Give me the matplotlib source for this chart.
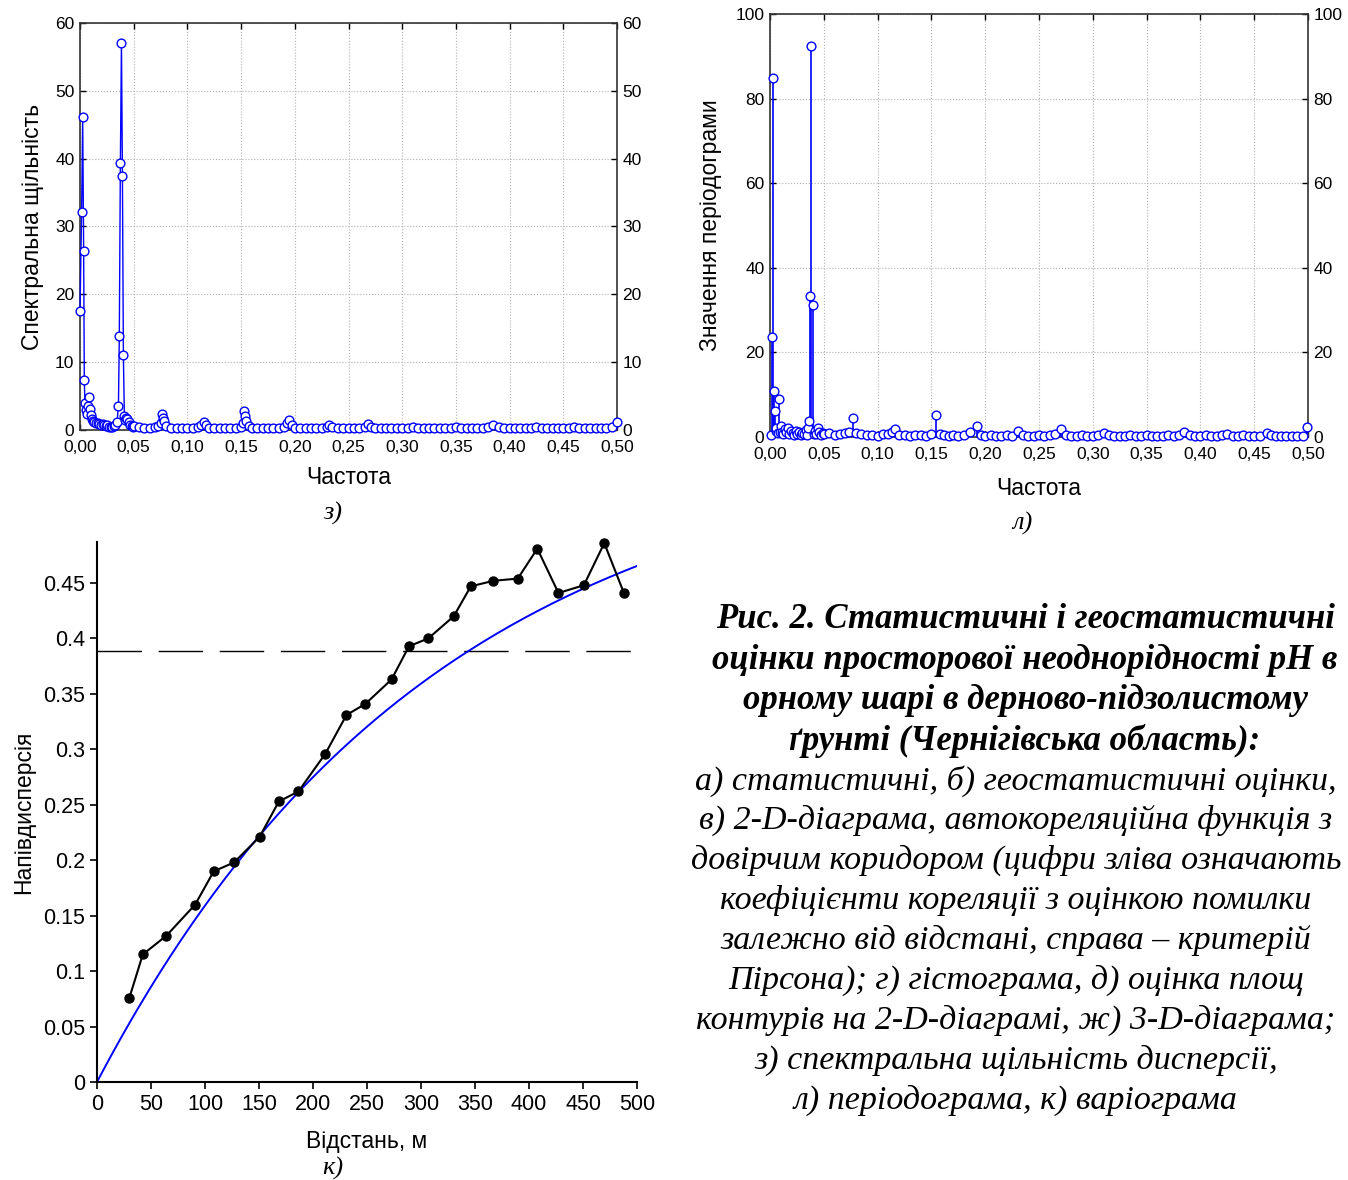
import numpy as np
import matplotlib
matplotlib.use("Agg")
import matplotlib.pyplot as plt

plt.rcParams['font.family'] = ['Liberation Sans', 'DejaVu Sans']

# ---- з) spectral density of variance
spec_freq = [0.000, 0.0015, 0.0025, 0.0034, 0.0040, 0.0046, 0.0054, 0.0062, 0.0072, 0.0081,
             0.0090, 0.0100, 0.0110, 0.0120, 0.0135, 0.0150, 0.0165, 0.0180, 0.0195, 0.0210,
             0.0225, 0.0240, 0.0255, 0.0270, 0.0285, 0.0300, 0.0315, 0.0330, 0.0345, 0.0358,
             0.0366, 0.0376, 0.0386, 0.0395, 0.0404, 0.0413, 0.0422, 0.0432, 0.0442, 0.0452,
             0.0465, 0.0480, 0.0495,
             0.050, 0.055, 0.060, 0.065, 0.070, 0.073, 0.075, 0.076, 0.077, 0.078,
             0.080, 0.085, 0.090, 0.095, 0.100, 0.105, 0.110, 0.113, 0.115, 0.117,
             0.120, 0.125, 0.130, 0.135, 0.140, 0.145, 0.150, 0.152, 0.153, 0.154,
             0.155, 0.157, 0.160, 0.165, 0.170, 0.175, 0.180, 0.185, 0.190, 0.193,
             0.195, 0.197, 0.200, 0.205, 0.210, 0.215, 0.220, 0.225, 0.230, 0.232,
             0.235, 0.240, 0.245, 0.250, 0.255, 0.260, 0.265, 0.268, 0.271, 0.275,
             0.280, 0.285, 0.290, 0.295, 0.300, 0.305, 0.310, 0.315, 0.320, 0.325,
             0.330, 0.335, 0.340, 0.345, 0.350, 0.355, 0.360, 0.365, 0.370, 0.375,
             0.380, 0.385, 0.390, 0.395, 0.400, 0.405, 0.410, 0.415, 0.420, 0.425,
             0.430, 0.435, 0.440, 0.445, 0.450, 0.455, 0.460, 0.465, 0.470, 0.475,
             0.480, 0.485, 0.490, 0.495, 0.500]
spec_vals = [17.5, 32.2, 46.1, 26.4, 7.3, 4.0, 2.9, 2.3, 3.5, 4.8,
             3.1, 2.2, 1.6, 1.4, 1.2, 1.0, 1.1, 0.9, 0.8, 0.9,
             0.7, 0.6, 0.7, 0.5, 0.4, 0.5, 0.6, 0.8, 1.2, 3.6,
             13.8, 39.4, 57.1, 37.4, 11.1, 2.0, 1.5, 1.7, 1.6, 1.2,
             0.8, 0.6, 0.5,
             0.6, 0.5, 0.3, 0.3, 0.4, 0.6, 1.1, 2.3, 1.8, 1.4,
             0.6, 0.3, 0.3, 0.25, 0.3, 0.3, 0.4, 0.8, 1.2, 0.7,
             0.3, 0.3, 0.25, 0.3, 0.3, 0.3, 0.5, 1.0, 2.8, 2.0,
             1.4, 0.6, 0.3, 0.3, 0.25, 0.3, 0.3, 0.35, 0.5, 1.0,
             1.5, 0.8, 0.3, 0.25, 0.3, 0.3, 0.25, 0.3, 0.5, 0.7,
             0.4, 0.3, 0.25, 0.3, 0.3, 0.3, 0.5, 0.9, 0.5, 0.3,
             0.25, 0.3, 0.3, 0.25, 0.3, 0.35, 0.45, 0.3, 0.25, 0.3,
             0.25, 0.3, 0.3, 0.35, 0.4, 0.3, 0.25, 0.3, 0.25, 0.3,
             0.4, 0.7, 0.4, 0.3, 0.25, 0.3, 0.3, 0.35, 0.3, 0.4,
             0.3, 0.25, 0.3, 0.3, 0.25, 0.3, 0.5, 0.35, 0.3, 0.25,
             0.3, 0.3, 0.25, 0.4, 1.2]

# ---- л) periodogram
per_freq = [0.0010, 0.0019, 0.0028, 0.0035, 0.0044, 0.0052, 0.0060, 0.0070, 0.0087, 0.0095,
            0.0105, 0.0115, 0.0125, 0.0135, 0.0150, 0.0165, 0.0180, 0.0195, 0.0210, 0.0225,
            0.0240, 0.0255, 0.0270, 0.0285, 0.0300, 0.0315, 0.0330, 0.0345, 0.0357, 0.0366,
            0.0375, 0.0384, 0.0397, 0.0405, 0.0415, 0.0430, 0.0446, 0.0460, 0.0475, 0.0490,
            0.050, 0.055, 0.060, 0.065, 0.070, 0.073, 0.0772, 0.080, 0.085, 0.090,
            0.095, 0.100, 0.105, 0.110, 0.1135, 0.116, 0.120, 0.125, 0.130, 0.135,
            0.140, 0.145, 0.150, 0.1544, 0.158, 0.162, 0.166, 0.170, 0.175, 0.180,
            0.186, 0.1925, 0.196, 0.200, 0.205, 0.210, 0.215, 0.220, 0.225, 0.2306,
            0.235, 0.240, 0.245, 0.250, 0.255, 0.260, 0.265, 0.270, 0.275, 0.280,
            0.285, 0.290, 0.295, 0.300, 0.305, 0.310, 0.315, 0.320, 0.325, 0.330,
            0.335, 0.340, 0.345, 0.350, 0.355, 0.360, 0.365, 0.370, 0.375, 0.380,
            0.385, 0.390, 0.395, 0.400, 0.405, 0.410, 0.415, 0.420, 0.425, 0.430,
            0.435, 0.440, 0.445, 0.450, 0.455, 0.462, 0.466, 0.470, 0.475, 0.480,
            0.485, 0.490, 0.495, 0.4995]
per_vals = [0.5, 23.7, 84.8, 10.9, 6.2, 1.5, 2.2, 1.0, 8.9, 1.2,
            2.6, 1.3, 0.8, 2.0, 1.1, 2.1, 0.6, 1.4, 0.9, 0.5,
            1.5, 0.7, 1.2, 0.4, 1.0, 0.6, 1.6, 0.5, 2.2, 3.9,
            33.4, 92.5, 31.1, 0.8, 1.5, 0.7, 2.1, 1.2, 0.5, 0.9,
            0.8, 1.0, 0.5, 0.7, 1.0, 1.2, 4.6, 1.0, 0.6, 0.4,
            0.5, 0.3, 0.6, 0.8, 1.2, 1.9, 0.4, 0.5, 0.3, 0.4,
            0.5, 0.3, 0.6, 5.1, 0.8, 0.4, 0.3, 0.5, 0.3, 0.4,
            1.2, 2.7, 0.5, 0.3, 0.4, 0.2, 0.3, 0.4, 0.3, 1.5,
            0.5, 0.3, 0.2, 0.4, 0.3, 0.5, 0.6, 1.8, 0.4, 0.2,
            0.3, 0.4, 0.3, 0.2, 0.5, 0.9, 0.4, 0.3, 0.2, 0.3,
            0.4, 0.2, 0.3, 0.5, 0.3, 0.2, 0.3, 0.4, 0.2, 0.5,
            1.2, 0.5, 0.3, 0.2, 0.4, 0.3, 0.2, 0.5, 0.6, 0.3,
            0.2, 0.4, 0.3, 0.2, 0.3, 1.0, 0.4, 0.2, 0.3, 0.2,
            0.3, 0.2, 0.3, 2.4]

# ---- к) variogram
lag_m = [30.0, 42.4, 64.3, 90.9, 108.1, 126.9, 150.5, 168.4, 186.5, 211.4,
         231.0, 248.5, 272.7, 288.9, 306.7, 330.3, 346.1, 367.0, 389.6, 407.7,
         427.3, 450.8, 469.7, 487.9]
semivar = [0.076, 0.115, 0.132, 0.160, 0.190, 0.198, 0.221, 0.253, 0.262, 0.296,
           0.331, 0.341, 0.363, 0.393, 0.400, 0.420, 0.447, 0.452, 0.454, 0.481,
           0.441, 0.448, 0.486, 0.441]
sample_variance = 0.389
# exponential model fitted to the experimental variogram
model_sill = 0.585
model_a = 315.0

caption_bold = ["Рис. 2. Статистичні і геостатистичні",
                "оцінки просторової неоднорідності pH в",
                "орному шарі в дерново-підзолистому",
                "ґрунті (Чернігівська область):"]
caption_plain = ["а) статистичні, б) геостатистичні оцінки,",
                 "в) 2-D-діаграма, автокореляційна функція з",
                 "довірчим коридором (цифри зліва означають",
                 "коефіцієнти кореляції з оцінкою помилки",
                 "залежно від відстані, справа – критерій",
                 "Пірсона); г) гістограма, д) оцінка площ",
                 "контурів на 2-D-діаграмі, ж) 3-D-діаграма;",
                 "з) спектральна щільність дисперсії,",
                 "л) періодограма, к) варіограма"]

fig = plt.figure(figsize=(13.48, 11.80), dpi=100)
W, H = 1348, 1180


def px_axes(x0, y0, x1, y1):
    return fig.add_axes([x0 / W, 1 - y1 / H, (x1 - x0) / W, (y1 - y0) / H])


def freq_axes(ax, ymax, ystep):
    ax.set_xlim(0, 0.5)
    ax.set_ylim(0, ymax)
    ax.set_xticks(np.arange(0, 0.501, 0.05))
    ax.set_xticklabels([f"{t:.2f}".replace(".", ",") for t in np.arange(0, 0.501, 0.05)])
    ax.set_yticks(np.arange(0, ymax + 0.1, ystep))
    ax.grid(True, color="#b0b0b0", linestyle=":", linewidth=0.8)
    ax.tick_params(direction="in", top=True, right=True, labelright=True,
                   labelsize=12.5, length=4, width=1)
    ax.tick_params(axis="x", pad=7)
    ax.tick_params(axis="y", pad=4)
    for s in ax.spines.values():
        s.set_linewidth(1.2)
        s.set_color("#333333")
    ax.set_axisbelow(True)


# з) spectral density
ax1 = px_axes(80, 23, 617, 430)
freq_axes(ax1, 60, 10)
ax1.plot(spec_freq, spec_vals, color="#0000ff", lw=1.0, marker="o", ms=6.3,
         mfc="white", mec="#0000ff", mew=1.0, clip_on=False, zorder=3)
ax1.set_xlabel("Частота", fontsize=16.5, labelpad=8)
ax1.set_ylabel("Спектральна щільність", fontsize=16.5, labelpad=8)
fig.text(333 / W, 1 - 513 / H, "з)", fontsize=19, style="italic",
         family="Liberation Serif", ha="center", va="center")

# л) periodogram
ax2 = px_axes(770, 14, 1308, 437)
freq_axes(ax2, 100, 20)
ax2.vlines(per_freq, 0, per_vals, color="#0000ff", lw=1.2, zorder=3)
ax2.plot(per_freq, per_vals, linestyle="none", marker="o", ms=6.3,
         mfc="white", mec="#0000ff", mew=1.0, clip_on=False, zorder=4)
ax2.set_xlabel("Частота", fontsize=16.5, labelpad=11)
ax2.set_ylabel("Значення періодограми", fontsize=16.5, labelpad=10)
fig.text(1022 / W, 1 - 523 / H, "л)", fontsize=19, style="italic",
         family="Liberation Serif", ha="center", va="center")

# к) variogram
ax3 = px_axes(97, 542, 637, 1082)
h = np.linspace(0, 500, 200)
ax3.plot(h, model_sill * (1 - np.exp(-h / model_a)), color="#0000ff", lw=1.4, zorder=2)
ax3.axhline(sample_variance, color="black", lw=1.0, dashes=(32, 12), zorder=1)
ax3.plot(lag_m, semivar, color="black", lw=1.5, marker="o", ms=6.5, zorder=3, clip_on=False)
ax3.set_xlim(0, 500)
ax3.set_ylim(0, 0.487)
ax3.set_xticks(np.arange(0, 501, 50))
ax3.set_yticks(np.arange(0, 0.451, 0.05))
ax3.set_yticklabels(["0", "0.05", "0.1", "0.15", "0.2", "0.25", "0.3", "0.35", "0.4", "0.45"])
ax3.spines["top"].set_visible(False)
ax3.spines["right"].set_visible(False)
ax3.spines["left"].set_linewidth(1.5)
ax3.spines["bottom"].set_linewidth(1.5)
ax3.tick_params(direction="out", labelsize=15.5, length=5, width=1.2)
ax3.set_xlabel("Відстань, м", fontsize=16.5, labelpad=11)
ax3.set_ylabel("Напівдисперсія", fontsize=16.5, labelpad=6)
fig.text(333 / W, 1 - 1168 / H, "к)", fontsize=19, style="italic",
         family="Liberation Serif", ha="center", va="center")

# caption
y = 620
for line in caption_bold:
    fig.text(1025 / W, 1 - y / H, line, fontsize=25, style="italic", weight="bold",
             family="Liberation Serif", ha="center", va="center")
    y += 40.2
for line in caption_plain:
    fig.text(1016 / W, 1 - y / H, line, fontsize=24.5, style="italic",
             family="Liberation Serif", ha="center", va="center")
    y += 40

fig.savefig("out.png", dpi=100)
